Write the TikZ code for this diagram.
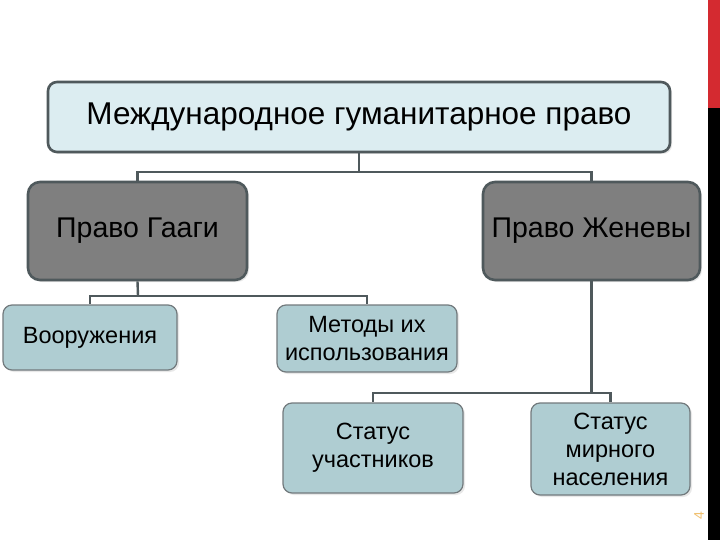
\documentclass[tikz,border=0pt]{standalone}
\usepackage{fontspec}
\setmainfont{Liberation Sans}
\usetikzlibrary{shadows}
\definecolor{edge}{HTML}{4F595C}
\definecolor{topfill}{HTML}{DCEDF1}
\definecolor{grayfill}{HTML}{7F7F7F}
\definecolor{lowfill}{HTML}{AFCDD2}
\definecolor{redbar}{HTML}{D42A30}
\definecolor{numcol}{HTML}{F0C070}
\tikzset{
  boxshadow/.style={drop shadow={opacity=0.18,shadow xshift=2pt,shadow yshift=-2pt}},
  topbox/.style={draw=edge,line width=2.6pt,fill=topfill,rounded corners=9pt,boxshadow,
    inner sep=0pt,align=center,font=\fontsize{31.5}{36}\selectfont},
  midbox/.style={draw=edge,line width=2.6pt,fill=grayfill,rounded corners=12pt,boxshadow,
    inner sep=0pt,align=center,font=\fontsize{28.5}{32}\selectfont},
  lowbox/.style={draw=edge!80,line width=1.2pt,fill=lowfill,rounded corners=9pt,boxshadow,
    inner sep=0pt,align=center,font=\fontsize{23.5}{28}\selectfont},
  conn/.style={draw=edge,line width=2.4pt}
}
\begin{document}
\begin{tikzpicture}[x=1pt,y=-1pt]
\useasboundingbox (0,0) rectangle (720,540);
\fill[white] (0,0) rectangle (720,540);
\fill[redbar] (708,0) rectangle (720,108);
\fill[black] (708,108) rectangle (720,540);
\node[rotate=90,text=numcol,font=\fontsize{14}{16}\selectfont] (pnum) at (699,516) {4};

\node[topbox,minimum width=622pt,minimum height=70pt] (top) at (359,117) {Международное гуманитарное право};
\node[midbox,minimum width=219pt,minimum height=98pt] (haag) at (137.5,231) {Право Гааги};
\node[midbox,minimum width=217pt,minimum height=98pt] (gen) at (591.5,231) {Право Женевы};
\node[lowbox,minimum width=174pt,minimum height=65pt] (arm) at (90,337.5) {Вооружения};
\node[lowbox,minimum width=180pt,minimum height=67pt] (meth) at (367,338.5) {Методы их\\использования};
\node[lowbox,minimum width=180pt,minimum height=90pt] (part) at (373,448) {Статус\\участников};
\node[lowbox,minimum width=159pt,minimum height=92pt] (civ) at (610.5,449) {Статус\\мирного\\населения};

\coordinate (j1) at (359,172);
\coordinate (j2) at (138,296);
\coordinate (j3) at (591.5,393);
\draw[conn] (top.south) -- (j1);
\draw[conn] (j1) -| (haag.north);
\draw[conn] (j1) -| (gen.north);
\draw[conn] (haag.south) -- (j2);
\draw[conn] (j2) -| (arm.north);
\draw[conn] (j2) -| (meth.north);
\draw[conn] (gen.south) -- (j3);
\draw[conn] (j3) -| (part.north);
\draw[conn] (j3) -| (civ.north);
\end{tikzpicture}
\end{document}
